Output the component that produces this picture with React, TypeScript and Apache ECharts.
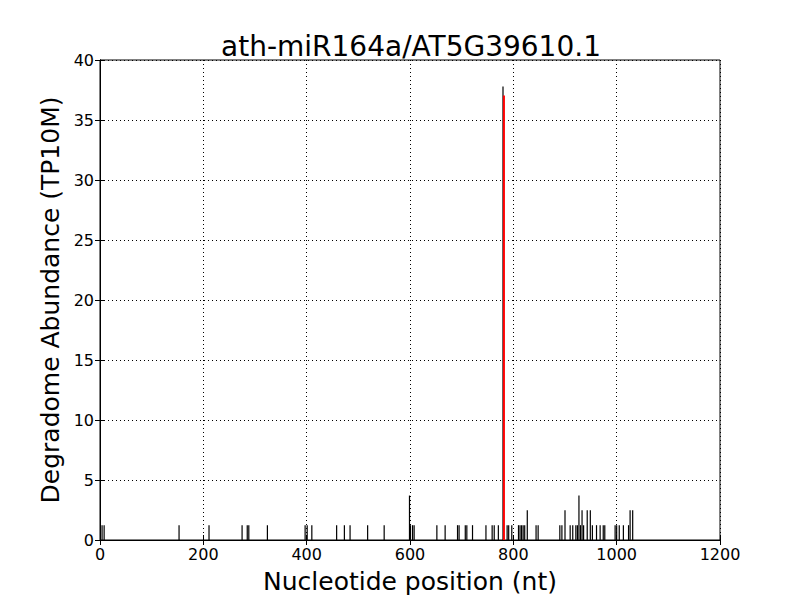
import React, { useEffect, useRef } from "react";
import * as echarts from "echarts";

const titleText = "ath-miR164a/AT5G39610.1";
const xLabel = "Nucleotide position (nt)";
const yLabel = "Degradome Abundance (TP10M)";

const blackPositions = [
  4, 8, 153, 211, 275, 285, 288, 324, 397, 401, 410, 458, 473, 484, 518, 550,
  599, 601, 605, 608, 652, 668, 692, 695, 707, 710, 721, 747, 759, 763, 771,
  780, 788, 791, 797, 810, 813, 816, 819, 822, 827, 844, 848, 890, 894, 900,
  910, 915, 921, 924, 927, 930, 933, 936, 943, 949, 953, 961, 968, 974, 977,
  997, 1000, 1005, 1013, 1023, 1026, 1031,
];
const blackValues = [
  1.235, 1.235, 1.235, 1.235, 1.235, 1.235, 1.235, 1.235, 1.235, 1.235, 1.235, 1.235, 1.235, 1.235, 1.235, 1.235,
  3.705, 1.235, 1.235, 1.235, 1.235, 1.235, 1.235, 1.235, 1.235, 1.235, 1.235, 1.235, 1.235, 1.235, 1.235,
  37.8, 1.235, 1.235, 1.235, 1.235, 1.235, 1.235, 1.235, 1.235, 2.47, 1.235, 1.235, 1.235, 1.235, 2.47,
  1.235, 1.235, 1.235, 1.235, 3.705, 1.235, 2.47, 1.235, 2.47, 2.47, 1.235, 1.235, 1.235, 1.235, 1.235,
  1.235, 1.235, 1.235, 1.235, 1.235, 2.47, 2.47,
];
const redPositions = [781.8];
const redValues = [37.05];

const xTicks = [0, 200, 400, 600, 800, 1000, 1200];
const yTicks = [0, 5, 10, 15, 20, 25, 30, 35, 40];

const FONT = "DejaVu Sans";

function vlineSeries(positions: number[], values: number[], color: string, width: number) {
  return {
    type: "custom",
    xAxisIndex: 0,
    yAxisIndex: 0,
    data: positions.map((p, i) => [p, values[i]]),
    renderItem: (params: any, api: any) => {
      const x = api.value(0);
      const y = api.value(1);
      const p0 = api.coord([x, 0]);
      const p1 = api.coord([x, y]);
      return {
        type: "line",
        shape: { x1: p0[0], y1: p0[1], x2: p1[0], y2: p1[1] },
        style: { stroke: color, lineWidth: width },
      };
    },
    z: 5,
  };
}

export default function App() {
  const ref = useRef<HTMLDivElement>(null);
  useEffect(() => {
    if (!ref.current) return;
    const chart = echarts.init(ref.current, null, { renderer: "svg" });
    const axisCommon = {
      type: "value",
      axisLine: { show: true, lineStyle: { color: "#000", width: 1 } },
      axisTick: { show: true, inside: true, length: 5, lineStyle: { color: "#000" } },
    };
    chart.setOption({
      animation: false,
      backgroundColor: "#fff",
      title: {
        text: titleText,
        left: 406,
        top: 27,
        textAlign: "center",
        textStyle: { fontFamily: FONT, fontSize: 28, fontWeight: "normal", color: "#000" },
      },
      grid: {
        left: 100,
        right: 80,
        top: 60,
        bottom: 60,
        show: true,
        borderColor: "#000",
        borderWidth: 1,
        backgroundColor: "#fff",
      },
      xAxis: [
        {
          ...axisCommon,
          min: 0,
          max: 1200,
          interval: 200,
          position: "bottom",
          name: xLabel,
          nameLocation: "middle",
          nameGap: 29,
          nameTextStyle: { fontFamily: FONT, fontSize: 25, color: "#000" },
          axisLabel: {
            fontFamily: FONT,
            fontSize: 16,
            color: "#000",
            margin: 6,
            formatter: (v: number) => (xTicks.includes(v) ? String(v) : ""),
          },
          splitLine: { show: true, lineStyle: { color: "#000", type: [1, 3], width: 1 } },
        },
        {
          ...axisCommon,
          min: 0,
          max: 1200,
          interval: 200,
          position: "top",
          axisLabel: { show: false },
          splitLine: { show: false },
        },
      ],
      yAxis: [
        {
          ...axisCommon,
          min: 0,
          max: 40,
          interval: 5,
          position: "left",
          name: yLabel,
          nameLocation: "middle",
          nameGap: 36,
          nameTextStyle: { fontFamily: FONT, fontSize: 25, color: "#000" },
          axisLabel: {
            fontFamily: FONT,
            fontSize: 16,
            color: "#000",
            margin: 6,
            formatter: (v: number) => (yTicks.includes(v) ? String(v) : ""),
          },
          splitLine: { show: true, lineStyle: { color: "#000", type: [1, 3], width: 1 } },
        },
        {
          ...axisCommon,
          min: 0,
          max: 40,
          interval: 5,
          position: "right",
          axisLabel: { show: false },
          splitLine: { show: false },
        },
      ],
      series: [
        vlineSeries(blackPositions, blackValues, "#000", 1.2),
        vlineSeries(redPositions, redValues, "#ff0000", 2),
      ],
    });
    return () => chart.dispose();
  }, []);
  return (
    <div
      ref={ref}
      style={{ position: "fixed", left: 0, top: 0, width: 800, height: 600, background: "#fff" }}
    />
  );
}
